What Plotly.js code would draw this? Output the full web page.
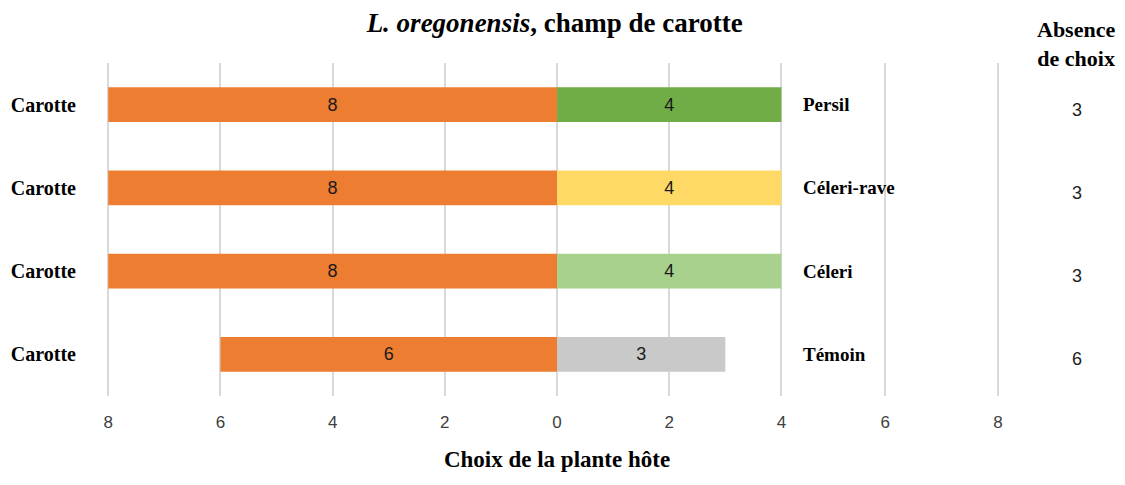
<!DOCTYPE html>
<html>
<head>
<meta charset="utf-8">
<script src="https://cdn.plot.ly/plotly-3.0.1.min.js"></script>
<style>html,body{margin:0;padding:0;background:#fff;}#chart{width:1125px;height:485px;}</style>
</head>
<body>
<div id="chart"></div>
<script>
var hostPlants = ["Persil", "Céleri-rave", "Céleri", "Témoin"];
var carotteValues = [8, 8, 8, 6];
var hostValues = [4, 4, 4, 3];
var absenceValues = [3, 3, 3, 6];
var hostColors = ["#70AD47", "#FFD966", "#A9D18E", "#C9C9C9"];
var leftLabel = "Carotte";
var tickValues = [-8, -6, -4, -2, 0, 2, 4, 5.85, 7.86];
var tickLabels = ["8", "6", "4", "2", "0", "2", "4", "6", "8"];

var serif = "Liberation Serif, Times New Roman, serif";
var sans = "Liberation Sans, Arial, sans-serif";

var traces = [
  {
    type: "bar", orientation: "h",
    y: hostPlants, x: carotteValues.map(function(v){return -v;}),
    text: carotteValues.map(String), textposition: "inside", insidetextanchor: "middle",
    textfont: {family: sans, size: 18, color: "#1a1a1a"},
    marker: {color: "#ED7D31"}, width: 0.42, hoverinfo: "skip"
  },
  {
    type: "bar", orientation: "h",
    y: hostPlants, x: hostValues,
    text: hostValues.map(String), textposition: "inside", insidetextanchor: "middle",
    textfont: {family: sans, size: 18, color: "#1a1a1a"},
    marker: {color: hostColors}, width: 0.42, hoverinfo: "skip"
  }
];

var annotations = [];
hostPlants.forEach(function(p, i){
  annotations.push({xref: "x", yref: "y", x: 4, y: p, xanchor: "left", xshift: 20, yshift: 0,
    text: "<b>" + p + "</b>", showarrow: false, font: {family: serif, size: 19, color: "#000"}});
  annotations.push({xref: "paper", yref: "y", x: 1, y: p, xanchor: "center", xshift: 60, yshift: -5,
    text: String(absenceValues[i]), showarrow: false, font: {family: sans, size: 18, color: "#222"}});
});
annotations.push({xref: "paper", yref: "paper", x: 1, y: 1, xanchor: "center", yanchor: "middle", xshift: 59, yshift: 19,
  text: "<b>Absence<br>de choix</b>", showarrow: false, align: "center",
  font: {family: serif, size: 22, color: "#000"}});

var layout = {
  width: 1125, height: 485,
  margin: {l: 97, r: 108, t: 63, b: 89},
  paper_bgcolor: "#fff", plot_bgcolor: "#fff",
  barmode: "relative",
  showlegend: false,
  title: {text: "<b><i>L. oregonensis</i>, champ de carotte</b>", x: 0.493, xanchor: "center", y: 0.953, yanchor: "middle",
    font: {family: serif, size: 27, color: "#000"}},
  xaxis: {
    range: [-8.2, 8.2], tickmode: "array", tickvals: tickValues, ticktext: tickLabels,
    showgrid: true, gridcolor: "#d9d9d9", gridwidth: 2, zeroline: false, showline: false,
    ticks: "outside", ticklen: 11, tickcolor: "rgba(0,0,0,0)",
    tickfont: {family: sans, size: 17, color: "#404040"},
    title: {text: "<b>Choix de la plante hôte</b>", standoff: 19, font: {family: serif, size: 23, color: "#000"}},
    fixedrange: true
  },
  yaxis: {
    type: "category", autorange: "reversed",
    tickmode: "array", tickvals: hostPlants, ticktext: hostPlants.map(function(){return "<b>" + leftLabel + "</b>";}),
    ticklabelstandoff: 20,
    tickfont: {family: serif, size: 20, color: "#000"},
    showgrid: false, zeroline: false, showline: false, ticks: "",
    fixedrange: true
  },
  annotations: annotations
};

Plotly.newPlot("chart", traces, layout, {displayModeBar: false, staticPlot: true});
</script>
</body>
</html>
